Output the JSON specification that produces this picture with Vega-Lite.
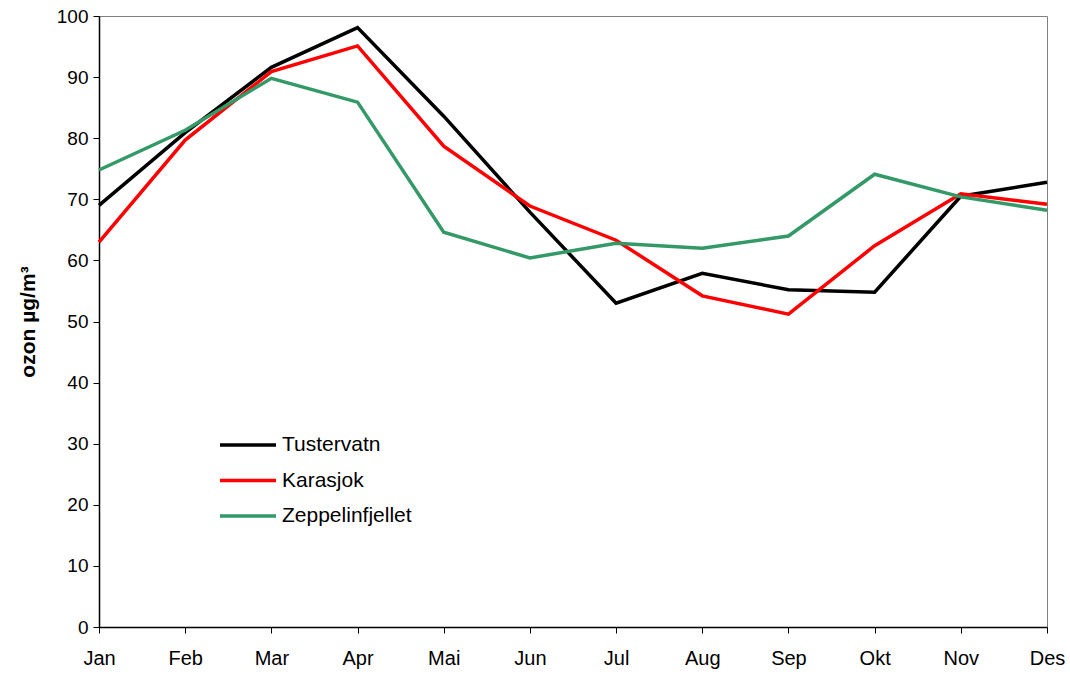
{
  "$schema": "https://vega.github.io/schema/vega-lite/v6.json",
  "width": 948,
  "height": 611,
  "autosize": {"type": "none"},
  "padding": {"left": 99, "top": 16, "right": 23, "bottom": 48},
  "background": "white",
  "config": {
    "font": "Liberation Sans",
    "view": {"stroke": "#808080", "strokeWidth": 1}
  },
  "data": {
    "values": [
      {"month": "Jan", "station": "Tustervatn", "ozon": 69.0},
      {"month": "Feb", "station": "Tustervatn", "ozon": 80.9},
      {"month": "Mar", "station": "Tustervatn", "ozon": 91.6},
      {"month": "Apr", "station": "Tustervatn", "ozon": 98.1},
      {"month": "Mai", "station": "Tustervatn", "ozon": 83.6},
      {"month": "Jun", "station": "Tustervatn", "ozon": 67.9},
      {"month": "Jul", "station": "Tustervatn", "ozon": 53.0},
      {"month": "Aug", "station": "Tustervatn", "ozon": 57.9},
      {"month": "Sep", "station": "Tustervatn", "ozon": 55.2},
      {"month": "Okt", "station": "Tustervatn", "ozon": 54.8},
      {"month": "Nov", "station": "Tustervatn", "ozon": 70.5},
      {"month": "Des", "station": "Tustervatn", "ozon": 72.8},
      {"month": "Jan", "station": "Karasjok", "ozon": 63.0},
      {"month": "Feb", "station": "Karasjok", "ozon": 79.7},
      {"month": "Mar", "station": "Karasjok", "ozon": 90.9},
      {"month": "Apr", "station": "Karasjok", "ozon": 95.1},
      {"month": "Mai", "station": "Karasjok", "ozon": 78.7},
      {"month": "Jun", "station": "Karasjok", "ozon": 68.9},
      {"month": "Jul", "station": "Karasjok", "ozon": 63.3},
      {"month": "Aug", "station": "Karasjok", "ozon": 54.2},
      {"month": "Sep", "station": "Karasjok", "ozon": 51.2},
      {"month": "Okt", "station": "Karasjok", "ozon": 62.4},
      {"month": "Nov", "station": "Karasjok", "ozon": 70.9},
      {"month": "Des", "station": "Karasjok", "ozon": 69.2},
      {"month": "Jan", "station": "Zeppelinfjellet", "ozon": 74.8},
      {"month": "Feb", "station": "Zeppelinfjellet", "ozon": 81.3},
      {"month": "Mar", "station": "Zeppelinfjellet", "ozon": 89.8},
      {"month": "Apr", "station": "Zeppelinfjellet", "ozon": 85.9},
      {"month": "Mai", "station": "Zeppelinfjellet", "ozon": 64.6},
      {"month": "Jun", "station": "Zeppelinfjellet", "ozon": 60.4},
      {"month": "Jul", "station": "Zeppelinfjellet", "ozon": 62.8},
      {"month": "Aug", "station": "Zeppelinfjellet", "ozon": 62.0},
      {"month": "Sep", "station": "Zeppelinfjellet", "ozon": 64.0},
      {"month": "Okt", "station": "Zeppelinfjellet", "ozon": 74.1},
      {"month": "Nov", "station": "Zeppelinfjellet", "ozon": 70.4},
      {"month": "Des", "station": "Zeppelinfjellet", "ozon": 68.2}
    ]
  },
  "mark": {"type": "line", "strokeWidth": 3.5, "strokeJoin": "miter"},
  "encoding": {
    "x": {
      "field": "month",
      "type": "ordinal",
      "sort": ["Jan","Feb","Mar","Apr","Mai","Jun","Jul","Aug","Sep","Okt","Nov","Des"],
      "scale": {"type": "point", "padding": 0},
      "axis": {
        "title": null,
        "labelAngle": 0,
        "labelFontSize": 20,
        "labelColor": "#000",
        "labelPadding": 15,
        "domainColor": "#000",
        "domainWidth": 1.5,
        "tickColor": "#000",
        "tickSize": 6,
        "grid": false
      }
    },
    "y": {
      "field": "ozon",
      "type": "quantitative",
      "scale": {"domain": [0, 100], "nice": false},
      "axis": {
        "title": "ozon µg/m³",
        "titleFontSize": 21,
        "titleFontWeight": "bold",
        "titleColor": "#000",
        "titlePadding": 18,
        "values": [0,10,20,30,40,50,60,70,80,90,100],
        "labelFontSize": 19,
        "labelColor": "#000",
        "labelPadding": 5,
        "domainColor": "#000",
        "domainWidth": 1.5,
        "tickColor": "#000",
        "tickSize": 6,
        "grid": false
      }
    },
    "color": {
      "field": "station",
      "type": "nominal",
      "sort": ["Tustervatn", "Karasjok", "Zeppelinfjellet"],
      "scale": {"domain": ["Tustervatn", "Karasjok", "Zeppelinfjellet"], "range": ["#000000", "#FF0000", "#339966"]},
      "legend": {
        "title": null,
        "orient": "none",
        "legendX": 133,
        "legendY": 413,
        "symbolType": "M-2,0H2",
        "symbolSize": 784,
        "symbolStrokeWidth": 3.5,
        "symbolFillColor": "transparent",
        "labelFontSize": 21,
        "labelColor": "#000",
        "labelOffset": 18,
        "rowPadding": 9.5
      }
    }
  }
}
